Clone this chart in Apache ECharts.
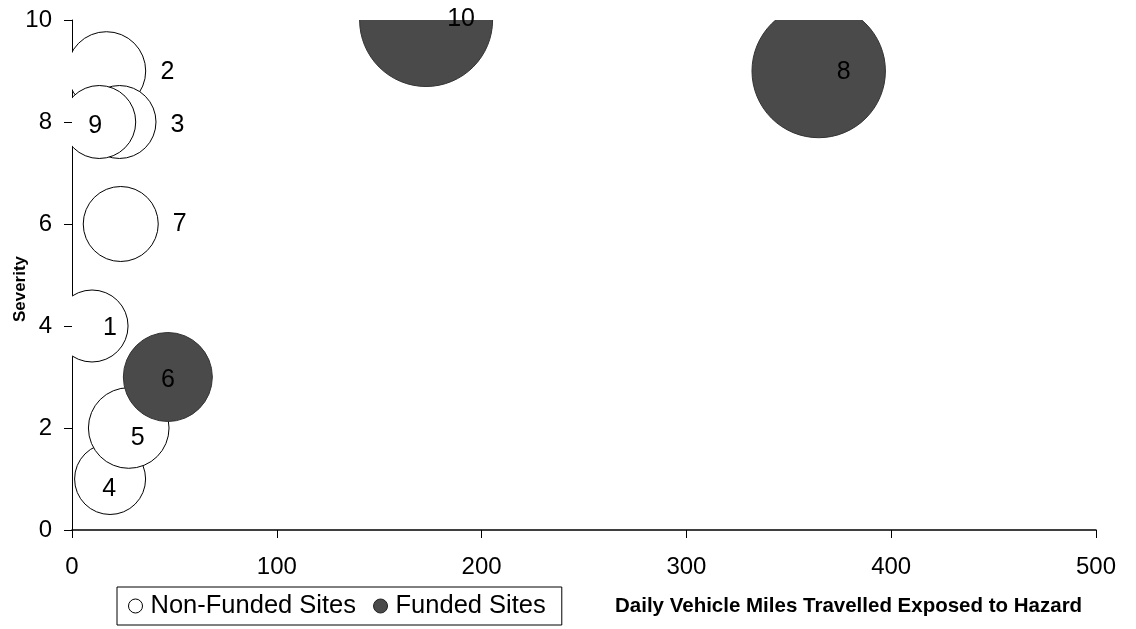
<!DOCTYPE html>
<html>
<head>
<meta charset="utf-8">
<script src="https://cdn.jsdelivr.net/npm/echarts@6/dist/echarts.min.js"></script>
<style>
html,body{margin:0;padding:0;background:#fff;}
#chart{width:1136px;height:629px;}
</style>
</head>
<body>
<div id="chart"></div>
<script>
// ---- Data ----
// Non-funded sites
const nonFundedSites = ['1', '2', '3', '4', '5', '7', '9'];
const nonFundedVMT = [9.8, 16.8, 23.2, 18.6, 27.7, 23.8, 13.3];      // Daily vehicle miles travelled exposed to hazard
const nonFundedSeverity = [4, 9, 8, 1, 2, 6, 8];
const nonFundedSize = [29.1, 34.7, 29.9, 28.3, 36.5, 31.6, 29.9];    // bubble size (relative area)

// Funded sites
const fundedSites = ['6', '8', '10'];
const fundedVMT = [46.8, 364.6, 172.9];
const fundedSeverity = [3, 9, 10];
const fundedSize = [44.5, 100, 99.4];

// Axis ticks
const xTicks = [0, 100, 200, 300, 400, 500];
const yTicks = [0, 2, 4, 6, 8, 10];

const seriesNames = ['Non-Funded Sites', 'Funded Sites'];
const xTitle = 'Daily Vehicle Miles Travelled Exposed to Hazard';
const yTitle = 'Severity';

// ---- Styling / layout (not data) ----
const FONT = "'Liberation Sans', Arial, sans-serif";
const labelOffsetsNonFunded = [[18, 2], [61, 1], [58, 3], [-1, 10], [9, 10], [59, 0], [-4, 4]];
const labelOffsetsFunded = [[0, 3], [25, 1], [35, -1]];
const FUNDED_COLOR = '#4a4a4a';

function build(names, xs, ys, sizes) {
  return names.map((n, i) => [xs[i], ys[i], sizes[i], n]);
}
const nonFundedData = build(nonFundedSites, nonFundedVMT, nonFundedSeverity, nonFundedSize);
const fundedData = build(fundedSites, fundedVMT, fundedSeverity, fundedSize);
const maxSize = Math.max(...nonFundedSize, ...fundedSize);

function bubbleRenderer(fill, stroke) {
  return function (params, api) {
    const c = api.coord([api.value(0), api.value(1)]);
    const h = Math.abs(api.size([0, 10])[1]);
    const r = Math.sqrt(api.value(2) / maxSize) * 0.1308 * h;
    return {
      type: 'circle',
      shape: { cx: c[0], cy: c[1], r: r },
      style: { fill: fill, stroke: stroke, lineWidth: 1 }
    };
  };
}
function labelRenderer(offsets) {
  return function (params, api) {
    const c = api.coord([api.value(0), api.value(1)]);
    const o = offsets[params.dataIndex];
    return {
      type: 'text',
      x: c[0] + o[0],
      y: c[1] + o[1],
      style: {
        text: String(api.value(3)),
        fontSize: 25, fontFamily: FONT, fill: '#000',
        align: 'center', verticalAlign: 'middle'
      }
    };
  };
}

const chart = echarts.init(document.getElementById('chart'), null, { renderer: 'canvas' });
chart.setOption({
  animation: false,
  backgroundColor: '#fff',
  grid: { left: 72, right: 40, top: 20, bottom: 99, containLabel: false },
  xAxis: {
    type: 'value', min: xTicks[0], max: xTicks[xTicks.length - 1], interval: xTicks[1] - xTicks[0],
    axisLine: { show: true, lineStyle: { color: '#000', width: 1.5 } },
    axisTick: { show: true, inside: false, length: 8, lineStyle: { color: '#000' } },
    axisLabel: { margin: 25, fontSize: 24, fontFamily: FONT, color: '#000' },
    splitLine: { show: false }
  },
  yAxis: {
    type: 'value', min: yTicks[0], max: yTicks[yTicks.length - 1], interval: yTicks[1] - yTicks[0],
    axisLine: { show: true, lineStyle: { color: '#000', width: 1 } },
    axisTick: { show: true, inside: false, length: 8, lineStyle: { color: '#000' } },
    axisLabel: { margin: 20, fontSize: 24, fontFamily: FONT, color: '#000' },
    splitLine: { show: false }
  },
  legend: {
    left: 117, top: 587,
    orient: 'horizontal',
    padding: [6, 16, 6, 11],
    borderColor: '#000', borderWidth: 1,
    itemWidth: 14, itemHeight: 14, itemGap: 17,
    textStyle: { fontSize: 25.5, fontFamily: FONT, color: '#000', padding: [0, 0, 0, 3] },
    data: [
      { name: seriesNames[0], icon: 'circle', itemStyle: { color: '#fff', borderColor: '#000', borderWidth: 1 } },
      { name: seriesNames[1], icon: 'circle', itemStyle: { color: FUNDED_COLOR, borderColor: '#222', borderWidth: 1 } }
    ]
  },
  graphic: [
    {
      type: 'text', x: 615, y: 606,
      style: { text: xTitle, font: 'bold 20.5px ' + FONT, fill: '#000', align: 'left', verticalAlign: 'middle' }
    },
    {
      type: 'text', x: 20, y: 289, rotation: Math.PI / 2,
      style: { text: yTitle, font: 'bold 17px ' + FONT, fill: '#000', align: 'center', verticalAlign: 'middle' }
    }
  ],
  series: [
    {
      name: seriesNames[0], type: 'custom', clip: true, z: 2,
      itemStyle: { color: '#fff', borderColor: '#000', borderWidth: 1 },
      renderItem: bubbleRenderer('#fff', '#000'),
      encode: { x: 0, y: 1 },
      data: nonFundedData
    },
    {
      name: seriesNames[1], type: 'custom', clip: true, z: 3,
      itemStyle: { color: FUNDED_COLOR },
      renderItem: bubbleRenderer(FUNDED_COLOR, '#333'),
      encode: { x: 0, y: 1 },
      data: fundedData
    },
    {
      name: 'nonFundedLabels', type: 'custom', clip: false, z: 4, silent: true,
      renderItem: labelRenderer(labelOffsetsNonFunded),
      encode: { x: 0, y: 1 },
      data: nonFundedData
    },
    {
      name: 'fundedLabels', type: 'custom', clip: false, z: 4, silent: true,
      renderItem: labelRenderer(labelOffsetsFunded),
      encode: { x: 0, y: 1 },
      data: fundedData
    }
  ]
});
</script>
</body>
</html>
